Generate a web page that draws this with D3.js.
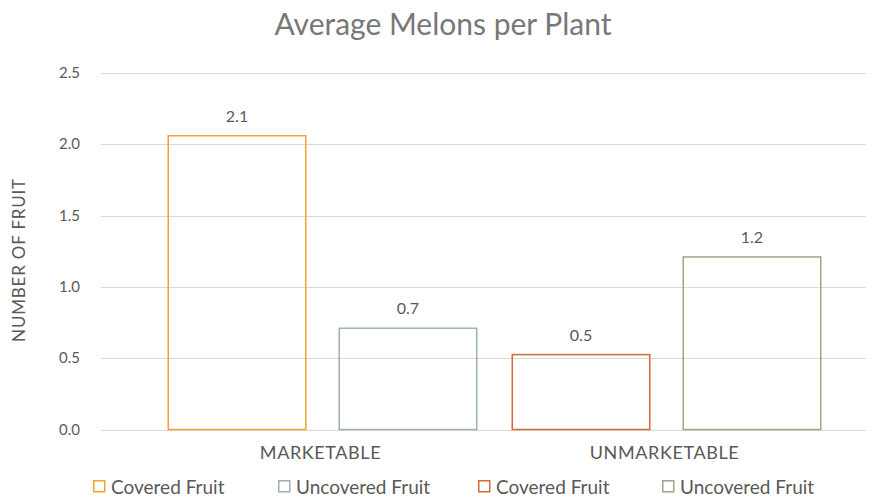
<!DOCTYPE html>
<html>
<head>
<meta charset="utf-8">
<script src="https://cdn.jsdelivr.net/npm/d3@7"></script>
<style>
  body { margin: 0; background: #fff; }
  text { font-family: "Lato", "Open Sans", sans-serif; fill: #595959; }
</style>
</head>
<body>
<div id="chart"></div>
<script>
  const categories = ["MARKETABLE", "UNMARKETABLE"];
  const seriesNames = ["Covered Fruit", "Uncovered Fruit", "Covered Fruit", "Uncovered Fruit"];
  const seriesCategory = ["MARKETABLE", "MARKETABLE", "UNMARKETABLE", "UNMARKETABLE"];
  const seriesSlot = [0, 1, 0, 1];
  const seriesValues = [2.06, 0.71, 0.525, 1.21];
  const seriesLabels = ["2.1", "0.7", "0.5", "1.2"];
  const seriesColors = ["#F2A230", "#9DB1B6", "#D26B35", "#9EA68A"];
  const yTicks = [0, 0.5, 1.0, 1.5, 2.0, 2.5];

  const W = 879, H = 499;
  const svg = d3.select("#chart").append("svg").attr("width", W).attr("height", H);

  const gridLeft = 101, gridRight = 866;
  const y = d3.scaleLinear().domain([0, 2.5]).range([429.5, 73]);
  const x0 = d3.scaleBand().domain(categories).range([150.5, 838.5]);
  const x1 = d3.scaleBand().domain([0, 1]).range([17, x0.bandwidth() - 17]).paddingInner(0.187);

  // title
  svg.append("text").attr("x", 443).attr("y", 35).attr("text-anchor", "middle")
    .style("font-size", "30px").style("fill", "#787878").text("Average Melons per Plant");

  // gridlines + tick labels
  svg.append("g").selectAll("line").data(yTicks).join("line")
    .attr("x1", gridLeft).attr("x2", gridRight)
    .attr("y1", d => Math.round(y(d)) + 0.5).attr("y2", d => Math.round(y(d)) + 0.5)
    .attr("stroke", "#d9d9d9").attr("stroke-width", 1.2);

  svg.append("g").selectAll("text").data(yTicks).join("text")
    .attr("x", 80).attr("y", d => y(d) + 5).attr("text-anchor", "end")
    .style("font-size", "15px").text(d => d3.format(".1f")(d));

  svg.append("text").attr("transform", "rotate(-90)")
    .attr("x", -260).attr("y", 25).attr("text-anchor", "middle")
    .style("font-size", "17px").style("letter-spacing", "0.8px").text("NUMBER OF FRUIT");

  // bars
  const bars = seriesValues.map((v, i) => ({ v, i }));
  svg.append("g").selectAll("rect").data(bars).join("rect")
    .attr("x", d => x0(seriesCategory[d.i]) + x1(seriesSlot[d.i]) + 0.75)
    .attr("y", d => y(d.v))
    .attr("width", x1.bandwidth() - 1.5)
    .attr("height", d => y(0) - y(d.v))
    .attr("fill", "none")
    .attr("stroke", d => seriesColors[d.i]).attr("stroke-width", 1.5);

  svg.append("g").selectAll("text").data(bars).join("text")
    .attr("x", d => x0(seriesCategory[d.i]) + x1(seriesSlot[d.i]) + x1.bandwidth() / 2)
    .attr("y", d => y(d.v) - 14)
    .attr("text-anchor", "middle").style("font-size", "16px")
    .text(d => seriesLabels[d.i]);

  // category labels
  svg.append("g").selectAll("text").data(categories).join("text")
    .attr("x", d => x0(d) + x0.bandwidth() / 2 - 2).attr("y", 459)
    .attr("text-anchor", "middle").style("font-size", "18px").style("letter-spacing", "0.6px").text(d => d);

  // legend
  const legendX = [93, 278, 478, 662];
  const leg = svg.append("g").selectAll("g").data(seriesNames).join("g")
    .attr("transform", (d, i) => `translate(${legendX[i]},487)`);
  leg.append("rect").attr("x", 0.75).attr("y", -6.25).attr("width", 11).attr("height", 11)
    .attr("fill", "none").attr("stroke", (d, i) => seriesColors[i]).attr("stroke-width", 1.5);
  leg.append("text").attr("x", 18).attr("y", 6.5).style("font-size", "19px").text(d => d);
</script>
</body>
</html>
